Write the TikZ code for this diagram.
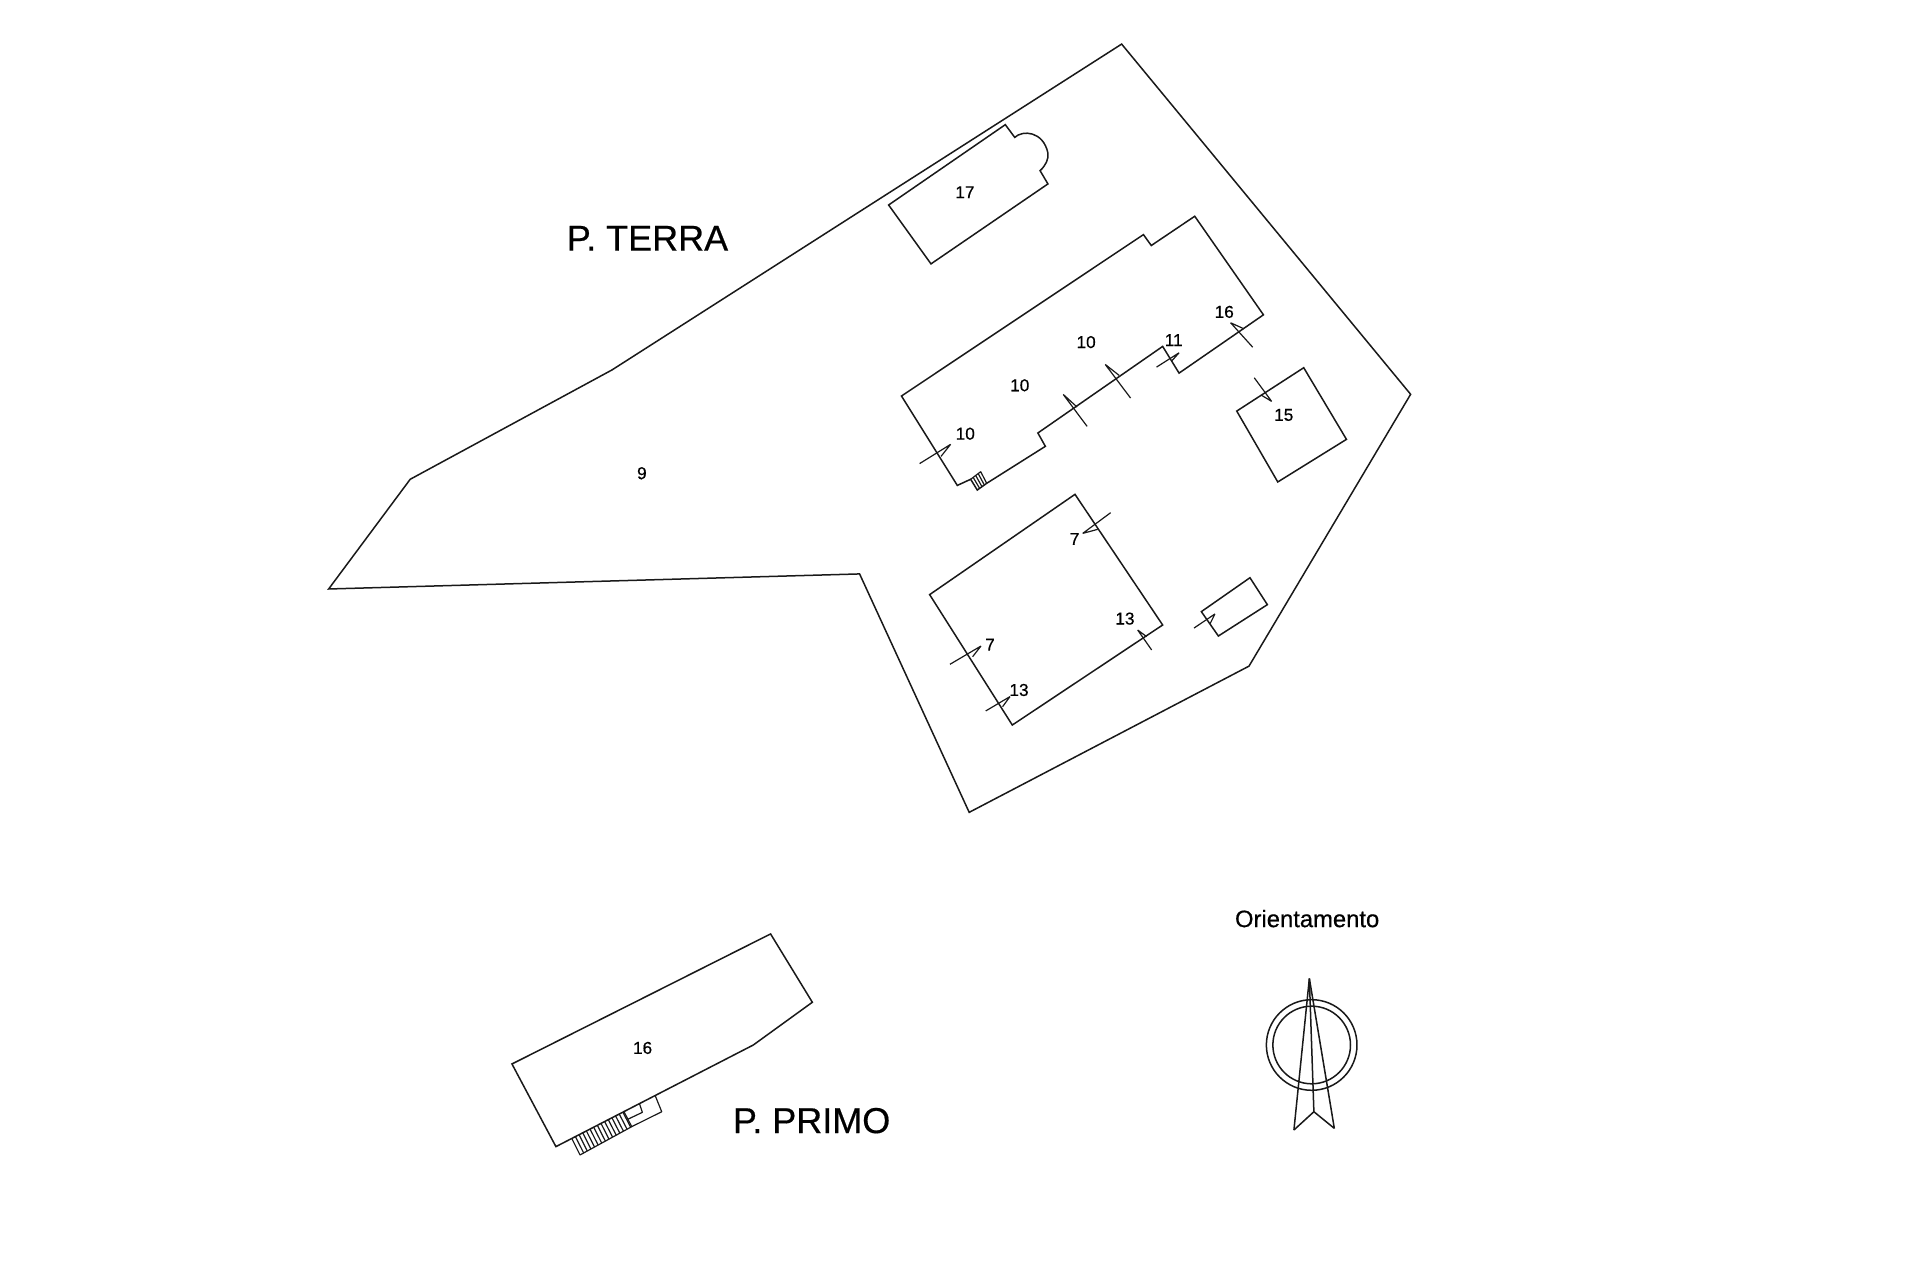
\documentclass[tikz,border=0pt]{standalone}
\usepackage{fontspec}
\setmainfont{Liberation Sans}
\newfontfamily\inkfont[FakeBold=0.5]{Liberation Sans}
\usetikzlibrary{calc}
\tikzset{
  wall/.style={draw=black!90, line width=.75pt, line join=miter},
  cutmark/.style={draw=black!90, line width=.6pt, line join=bevel},
  num/.style={inner sep=0pt, yshift=.5pt, font=\inkfont\fontsize{8.6pt}{10pt}\selectfont},
  floorname/.style={inner sep=0pt, yshift=.5pt, font=\inkfont\fontsize{18pt}{20pt}\selectfont}
}
\begin{document}
\begin{tikzpicture}[x=.6122pt, y=-.6122pt]
  \useasboundingbox[fill=white] (0,0) rectangle (1568,1045.33);
  % small stair
  \coordinate (sa) at (792.7,391.4);
  \coordinate (sb) at (800.9,385.2);
  \coordinate (sc) at (805.8,394.7);
  \coordinate (sd) at (798.1,400.2);
  % ground floor
  \path[wall] (916,36) -- (1152,322) -- (1020,544) -- (791.5,663.4) -- (702,468.7) -- (268.4,481) -- (335,391.4) -- (499.8,302.1) -- cycle;
  \path[wall] (821,101.8) -- (828.7,112.2) .. controls (835,106) and (852,107) .. (855.8,125) .. controls (856.5,130) and (854,135) .. (849.4,139.4) -- (855.8,150.2) -- (760.3,215.5) -- (725.7,167.4) -- cycle;
  \path[wall] (975.7,176.6) -- (940.2,200.5) -- (933.8,191.6) -- (736.2,323.4) -- (781.8,396.4) -- (sa) -- (sd) -- (sc) -- (853.7,364.5) -- (847.6,353.6) -- (949.5,282.9) -- (962.9,304.7) -- (1031.8,257.1) -- cycle;
  \path[wall] (1064.7,300.3) -- (1099.6,358.8) -- (1043.5,393.6) -- (1010,335.7) -- cycle;
  \path[wall] (877.9,403.7) -- (949.5,510.4) -- (826.7,592.1) -- (759.2,485.6) -- cycle;
  \path[wall] (1020.8,471.8) -- (1035,493.8) -- (995,519.4) -- (981.1,499.5) -- cycle;
  \path[cutmark] (sa) -- (sb) -- (sc);
  \foreach \t in {.25,.5,.75}
    \path[cutmark] ($(sa)!\t!(sb)$) -- ($(sd)!\t!(sc)$);
  % door marks
  \path[cutmark] (751,378.6) -- (776.3,362.9) -- (768.5,372.7);
  \path[cutmark] (887.8,348.2) -- (868.3,322.1) -- (879.6,332.4);
  \path[cutmark] (923.3,325.1) -- (902.6,297.6) -- (914,306.6);
  \path[cutmark] (944.5,299.8) -- (962.9,288.1) -- (956.8,294.9);
  \path[cutmark] (1023,283.5) -- (1005,263.6) -- (1015.8,268.5);
  \path[cutmark] (1024.3,308.5) -- (1038.5,327.8) -- (1030.4,322.9);
  \path[cutmark] (907,418.7) -- (884.2,435.6) -- (896.4,432.3);
  \path[cutmark] (940.5,530.8) -- (929.1,514.5) -- (936.4,519.9);
  \path[cutmark] (775.8,542.5) -- (801.1,527.6) -- (794.3,536.3);
  \path[cutmark] (805,580.6) -- (824.8,568.9) -- (818.8,577.1);
  \path[cutmark] (975.1,512.9) -- (992.2,501.4) -- (988.1,509.6);
  % first floor
  \path[wall] (629.3,762.7) -- (663.4,818.5) -- (615.2,853.4) -- (454,936.4) -- (418.1,868.9) -- cycle;
  \path[cutmark] (534.9,894.3) -- (540.4,907.9) -- (515.9,920.1);
  \path[cutmark] (522.1,901) -- (524.6,908.4) -- (512.6,914.1);
  \coordinate (ta) at (466.9,929.6);
  \coordinate (tb) at (509.6,907.9);
  \coordinate (tc) at (515.9,920.1);
  \coordinate (td) at (473.7,943.2);
  \path[cutmark] (ta) -- (td) -- (tc) -- (tb);
  \foreach \t in {.07,.14,...,1}
    \path[cutmark] ($(ta)!\t!(tb)$) -- ($(td)!\t!(tc)$);
  % compass
  \path[wall] (1071.2,853.4) circle (37) circle (31.7);
  \path[wall, line join=bevel] (1069.3,799) -- (1056.7,922.8) -- (1073,907.9) -- (1089.7,921.5) -- cycle;
  \path[wall] (1069.3,799) -- (1073,907.9);
  % labels
  \node[num] (n17) at (788,157.8) {17};
  \node[num] (n10a) at (887,280.2) {10};
  \node[num] (n10b) at (832.8,315.5) {10};
  \node[num] (n10c) at (788.3,355) {10};
  \node[num] (n11) at (958.5,278.6) {11};
  \node[num] (n16a) at (999.8,255.5) {16};
  \node[num] (n15) at (1048.4,339.7) {15};
  \node[num] (n9) at (524.2,387.3) {9};
  \node[num] (n7a) at (877.6,441) {7};
  \node[num] (n13a) at (918.7,506) {13};
  \node[num] (n7b) at (808.5,527.3) {7};
  \node[num] (n13b) at (832.2,564.3) {13};
  \node[num] (n16b) at (524.8,856.6) {16};
  \node[floorname] (terra) at (528.8,195.4) {P. TERRA};
  \node[floorname] (primo) at (662.8,916) {P. PRIMO};
  \node[inner sep=0pt, yshift=.5pt, font=\inkfont\fontsize{11.9pt}{14pt}\selectfont] (orient) at (1067.5,751) {Orientamento};
\end{tikzpicture}
\end{document}
